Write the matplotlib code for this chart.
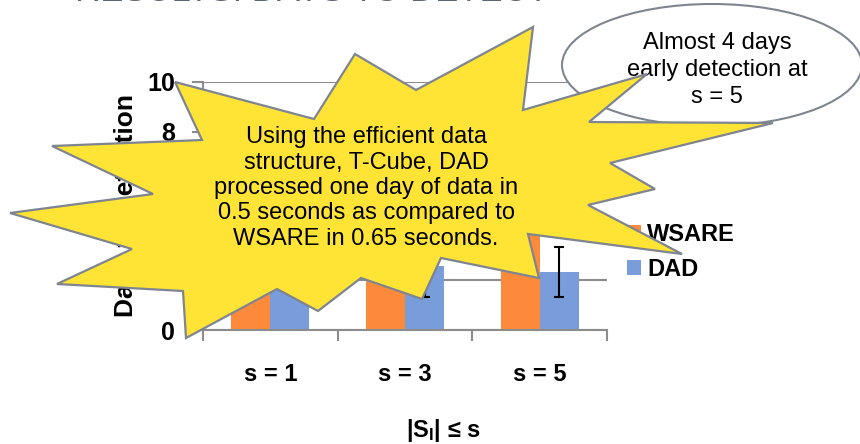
import matplotlib
matplotlib.use("Agg")
import matplotlib.pyplot as plt
import numpy as np
from matplotlib.patches import Polygon, Ellipse

plt.rcParams['font.family'] = ['Liberation Sans', 'DejaVu Sans']
plt.rcParams['mathtext.fontset'] = 'custom'
plt.rcParams['mathtext.rm'] = 'Liberation Sans'
plt.rcParams['mathtext.bf'] = 'Liberation Sans:bold'

# data (values behind the callouts are estimates)
categories = ['s = 1', 's = 3', 's = 5']
wsare_days = [4.6, 5.4, 6.1]
dad_days = [3.1, 2.6, 2.35]
wsare_err = [1.0, 1.0, 1.0]
dad_err = [1.0, 1.25, 1.0]
y_ticks = [0, 2, 4, 6, 8, 10]

ORANGE = '#FD8A3A'
BLUE = '#789DDA'
GRAY = '#8C8C8C'
OUTLINE = '#7F8590'
YELLOW = '#FFE436'

W, H = 860, 444


def px(x, y):
    """pixel position (from top-left) to figure fraction"""
    return (x / W, 1 - y / H)


fig = plt.figure(figsize=(8.6, 4.44), dpi=100)
ax = fig.add_axes([203 / W, 1 - 330 / H, 404 / W, 248 / H])

x = np.arange(len(categories))
bw = 0.29
err_kw = dict(ecolor='black', elinewidth=1.5, capsize=3.5, capthick=1.5)
ax.bar(x - bw / 2, wsare_days, bw, color=ORANGE, yerr=wsare_err,
       error_kw=err_kw, label='WSARE', zorder=2)
ax.bar(x + bw / 2, dad_days, bw, color=BLUE, yerr=dad_err,
       error_kw=err_kw, label='DAD', zorder=2)

ax.set_xlim(-0.5, 2.5)
ax.set_ylim(0, 10)
ax.set_yticks(y_ticks)
ax.set_yticklabels([str(t) for t in y_ticks], fontsize=18, fontweight='bold')
ax.set_xticks(x)
ax.set_xticklabels(categories, fontsize=17, fontweight='bold')
ax.set_xticks([-0.5, 0.5, 1.5, 2.5], minor=True)
ax.tick_params(axis='x', which='major', length=0, pad=24)
ax.tick_params(axis='x', which='minor', length=8, width=1.5, color=GRAY)
ax.tick_params(axis='y', length=8, width=1.5, color=GRAY, pad=12)
ax.yaxis.grid(True, color=GRAY, linewidth=1.5, zorder=0)
ax.set_axisbelow(True)
for side in ['top', 'right']:
    ax.spines[side].set_visible(False)
for side in ['left', 'bottom']:
    ax.spines[side].set_color(GRAY)
    ax.spines[side].set_linewidth(1.5)

ax.set_ylabel('Days to Detection', fontsize=19, fontweight='bold')
ax.yaxis.set_label_coords(138 / W, 1 - 205 / H, transform=fig.transFigure)
fig.text(*px(443, 430), r'$\mathbf{|S_{I}|}$ ≤ s', fontsize=17,
         fontweight='bold', ha='center', va='center')

ax.legend(loc='upper left', bbox_to_anchor=px(627, 223),
          bbox_transform=fig.transFigure, frameon=False,
          prop={'size': 17, 'weight': 'bold'}, handlelength=0.6,
          handleheight=0.6, handletextpad=0.25, labelspacing=0.5,
          borderpad=0, borderaxespad=0)

# slide title, cut off at the top edge
fig.text(*px(75, 8), 'RESULTS: DAYS TO DETECT', fontsize=25,
         color='#5F6673', ha='left', va='bottom')

# ellipse callout
ell = Ellipse(px(712, 65), 300 / W, 122 / H, transform=fig.transFigure,
              facecolor='white', edgecolor=OUTLINE, linewidth=1.5, zorder=5)
fig.add_artist(ell)
fig.text(*px(717, 70), 'Almost 4 days\nearly detection at\ns = 5',
         fontsize=17, ha='center', va='center', linespacing=1.27, zorder=6)

# starburst callout
star_px = [(186, 338), (277, 289), (318, 311), (361, 278), (422, 299),
           (441, 258), (539, 278), (528, 234), (682, 254), (588, 205),
           (655, 189), (610, 163), (773, 123), (589, 122), (647, 74),
           (523, 110), (533, 27), (416, 90), (355, 54), (314, 119),
           (175, 82), (202, 140), (52, 146), (153, 194), (10, 213),
           (132, 249), (57, 284), (183, 291)]
star = Polygon([px(a, b) for a, b in star_px], closed=True,
               transform=fig.transFigure, facecolor=YELLOW,
               edgecolor=OUTLINE, linewidth=1.6, zorder=7)
fig.add_artist(star)
fig.text(*px(366, 188),
         'Using the efficient data\nstructure, T-Cube, DAD\n'
         'processed one day of data in\n0.5 seconds as compared to\n'
         'WSARE in 0.65 seconds.',
         fontsize=17, ha='center', va='center', linespacing=1.2, zorder=8)

fig.savefig('out.png', dpi=100)
